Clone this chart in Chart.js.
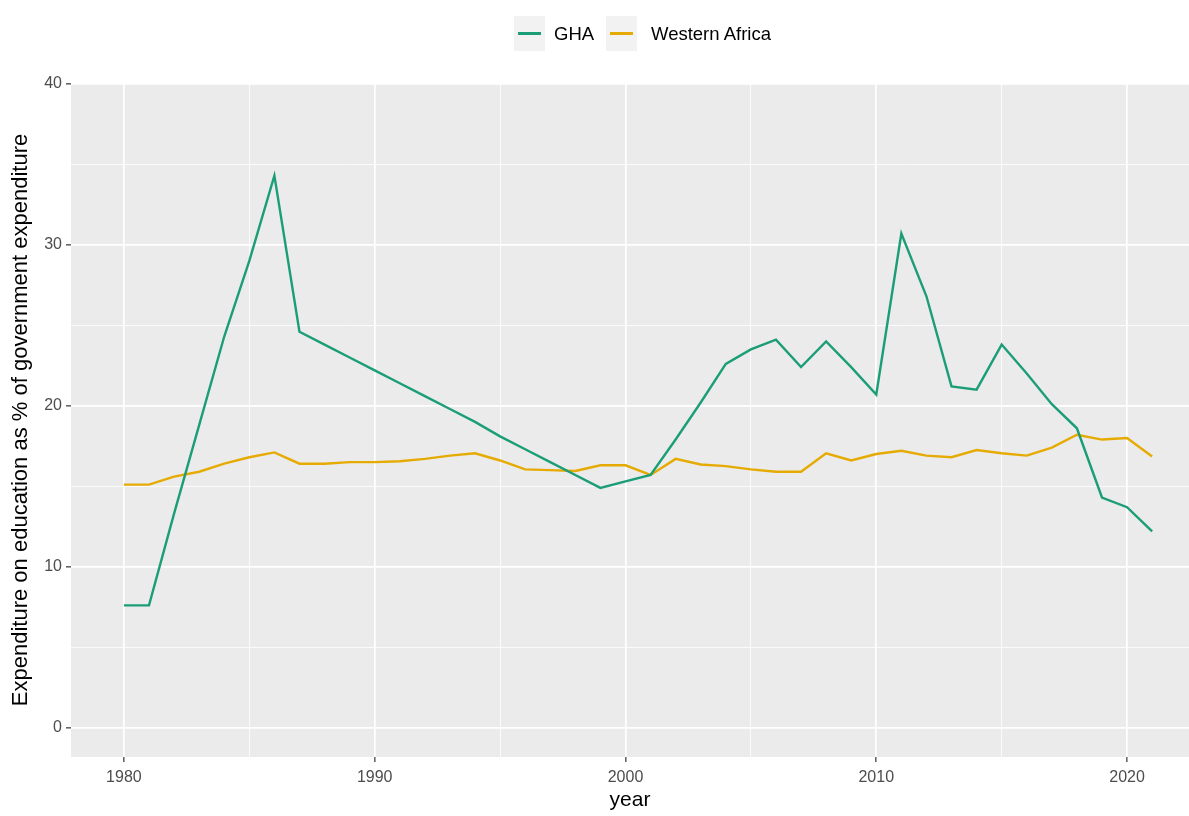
<!DOCTYPE html>
<html>
<head>
<meta charset="utf-8">
<script src="https://cdn.jsdelivr.net/npm/chart.js"></script>
<style>
  body { margin: 0; background: #fff; }
  #wrap { position: relative; width: 1189px; height: 816px; }
  .key { position: absolute; top: 16px; width: 31px; height: 35px; background: #f2f2f2; }
  .key span { position: absolute; left: 4px; right: 4px; top: 16px; height: 3px; }
  .lab { position: absolute; top: 23px; font: 18.5px "Liberation Sans", Arial, sans-serif; color: #000; }
</style>
</head>
<body>
<div id="wrap">
  <canvas id="c"></canvas>
  <div class="key" style="left:514px"><span style="background:#1b9e77"></span></div>
  <div class="lab" style="left:554px">GHA</div>
  <div class="key" style="left:606px"><span style="background:#e6ab02"></span></div>
  <div class="lab" style="left:651px">Western Africa</div>
</div>
<script>
var years = [1980, 1981, 1982, 1983, 1984, 1985, 1986, 1987, 1988, 1989,
             1990, 1991, 1992, 1993, 1994, 1995, 1996, 1997, 1998, 1999,
             2000, 2001, 2002, 2003, 2004, 2005, 2006, 2007, 2008, 2009,
             2010, 2011, 2012, 2013, 2014, 2015, 2016, 2017, 2018, 2019,
             2020, 2021];

var gha = [7.6, 7.6, 13.3, 18.8, 24.3, 29.0, 34.3, 24.6, 23.8, 23.0,
           22.2, 21.4, 20.6, 19.8, 19.0, 18.1, 17.3, 16.5, 15.7, 14.9,
           15.3, 15.7, 17.9, 20.2, 22.6, 23.5, 24.1, 22.4, 24.0, 22.4,
           20.7, 30.7, 26.8, 21.2, 21.0, 23.8, 22.0, 20.1, 18.6, 14.3,
           13.7, 12.2];

var westernAfrica = [15.1, 15.1, 15.6, 15.9, 16.4, 16.8, 17.1, 16.4, 16.4, 16.5,
                     16.5, 16.55, 16.7, 16.9, 17.05, 16.6, 16.05, 16.0, 15.95, 16.3,
                     16.3, 15.7, 16.7, 16.35, 16.25, 16.05, 15.9, 15.9, 17.05, 16.6,
                     17.0, 17.2, 16.9, 16.8, 17.25, 17.05, 16.9, 17.4, 18.2, 17.9,
                     18.0, 16.85];

var xTicks = [1980, 1985, 1990, 1995, 2000, 2005, 2010, 2015, 2020];
var yTicks = [0, 5, 10, 15, 20, 25, 30, 35, 40];

function pts(vals) {
    return years.map(function (y, i) { return { x: y, y: vals[i] }; });
}

// grey panel like ggplot
var panelBg = {
    id: 'panelBg',
    beforeDraw: function (chart) {
        var a = chart.chartArea, ctx = chart.ctx;
        ctx.save();
        ctx.fillStyle = '#ebebeb';
        ctx.fillRect(a.left, a.top, a.right - a.left, a.bottom - a.top);
        ctx.restore();
    }
};

var font = '"Liberation Sans", Arial, sans-serif';

function isMajor(v) { return v % 10 === 0; }

var gridOpts = {
    color: '#ffffff',
    lineWidth: function (ctx) { return ctx.tick && isMajor(ctx.tick.value) ? 1.7 : 0.8; },
    tickColor: function (ctx) { return ctx.tick && isMajor(ctx.tick.value) ? '#333333' : 'rgba(0,0,0,0)'; },
    tickLength: 5,
    tickWidth: 1.2,
    drawOnChartArea: true
};

new Chart(document.getElementById('c'), {
    type: 'line',
    data: {
        datasets: [
            { label: 'GHA', data: pts(gha), borderColor: '#1b9e77', borderWidth: 2.4, pointRadius: 0, tension: 0 },
            { label: 'Western Africa', data: pts(westernAfrica), borderColor: '#e6ab02', borderWidth: 2.4, pointRadius: 0, tension: 0 }
        ]
    },
    options: {
        responsive: true,
        maintainAspectRatio: false,
        animation: false,
        layout: { padding: { top: 83, right: 0, left: 0, bottom: 0 } },
        plugins: { legend: { display: false }, tooltip: { enabled: false } },
        scales: {
            x: {
                type: 'linear',
                min: 1977.89,
                max: 2022.47,
                afterBuildTicks: function (s) { s.ticks = xTicks.map(function (v) { return { value: v }; }); },
                afterFit: function (s) { s.height = 59; },
                border: { display: false },
                grid: gridOpts,
                ticks: {
                    padding: 6,
                    color: '#4d4d4d',
                    font: { family: font, size: 16 },
                    callback: function (v) { return isMajor(v) ? String(v) : ''; }
                },
                title: { display: true, text: 'year', color: '#000', font: { family: font, size: 21 }, padding: { top: 0, bottom: 3 } }
            },
            y: {
                min: -1.82,
                max: 40.05,
                afterBuildTicks: function (s) { s.ticks = yTicks.map(function (v) { return { value: v }; }); },
                afterFit: function (s) { s.width = 71; },
                border: { display: false },
                grid: gridOpts,
                ticks: {
                    padding: 4,
                    color: '#4d4d4d',
                    font: { family: font, size: 16 },
                    callback: function (v) { return isMajor(v) ? String(v) : ''; }
                },
                title: { display: true, text: 'Expenditure on education as % of government expenditure', color: '#000', font: { family: font, size: 22 }, padding: { top: 8, bottom: 0 } }
            }
        }
    },
    plugins: [panelBg]
});
</script>
</body>
</html>
